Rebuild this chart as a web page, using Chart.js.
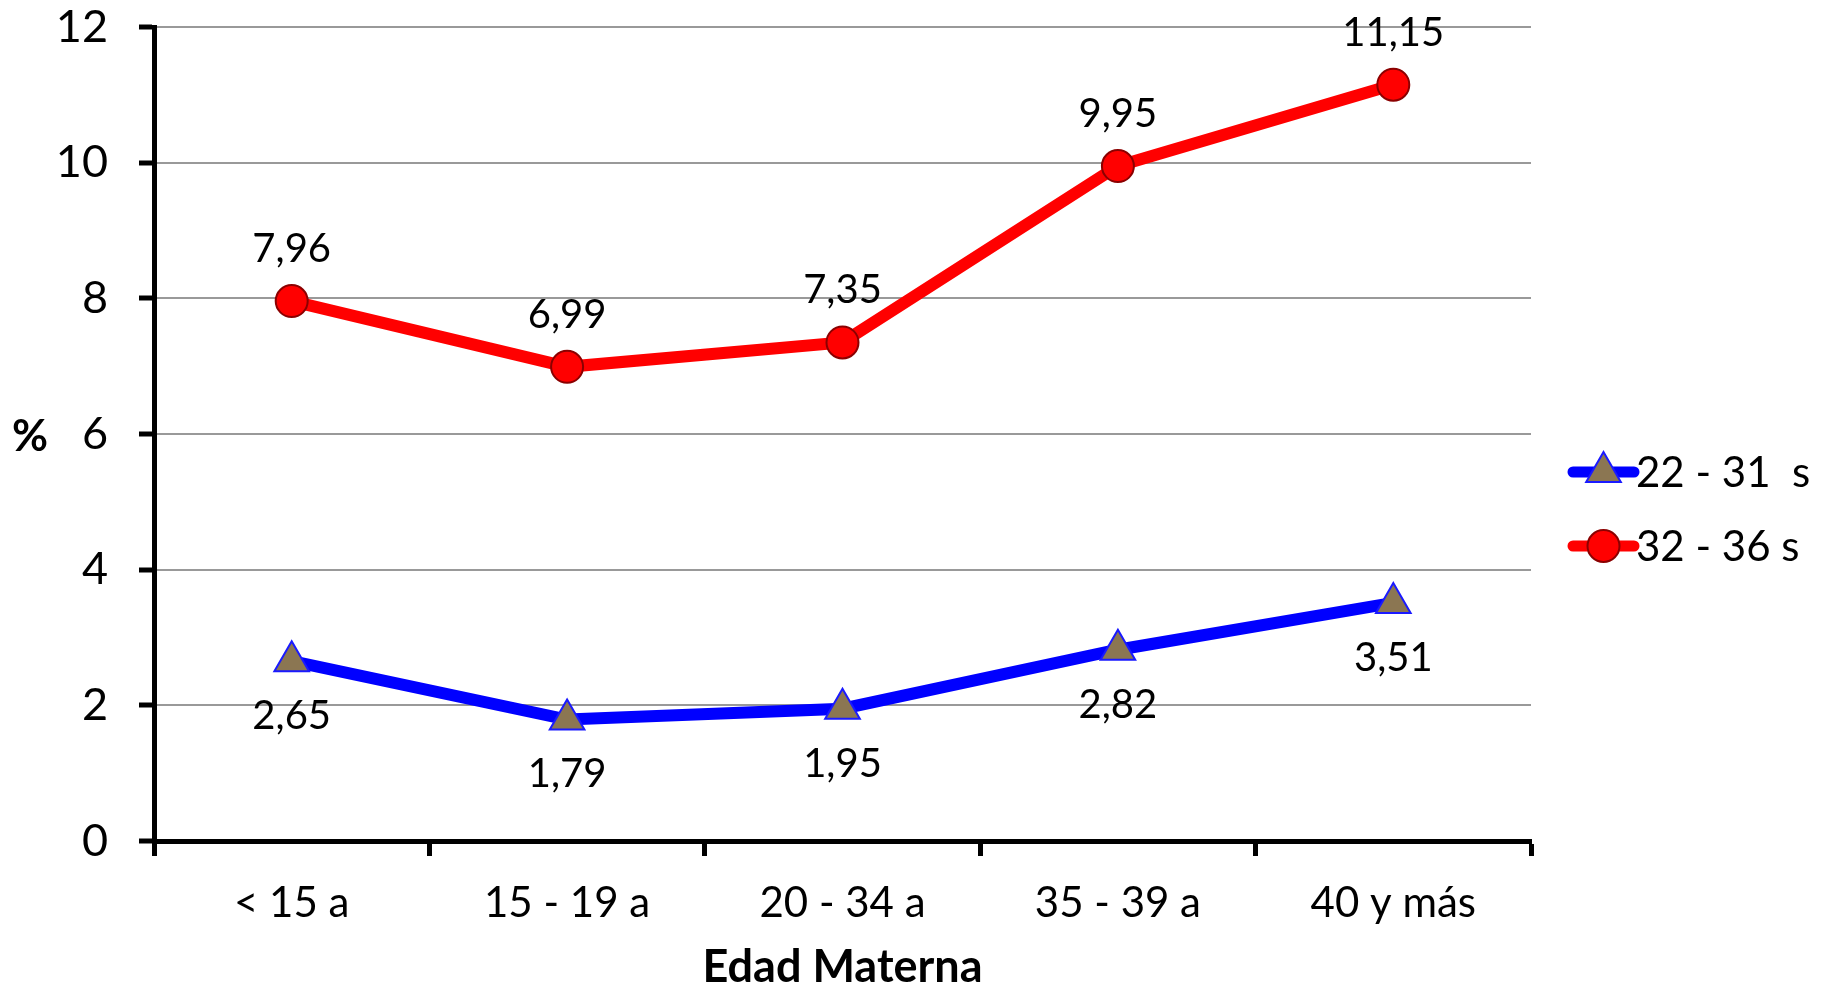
<!DOCTYPE html>
<html lang="es">
<head>
<meta charset="UTF-8">
<title>Edad Materna</title>
<script src="https://cdn.jsdelivr.net/npm/chart.js"></script>
<style>
  html, body { margin: 0; padding: 0; background: #ffffff; }
  #wrap { width: 1827px; height: 990px; }
</style>
</head>
<body>
<div id="wrap"><canvas id="chart"></canvas></div>
<script>
// data
const categories = ['< 15 a', '15 - 19 a', '20 - 34 a', '35 - 39 a', '40 y más'];
const serie2231 = [2.65, 1.79, 1.95, 2.82, 3.51];
const serie3236 = [7.96, 6.99, 7.35, 9.95, 11.15];
const seriesNames = ['22 - 31  s', '32 - 36 s'];
const yMin = 0, yMax = 12, yStep = 2;
const xTitle = 'Edad Materna';
const yTitle = '%';

const FONT = 'Lato, "Open Sans", sans-serif';

// value labels: red above the points, blue below
const valueLabels = {
  id: 'valueLabels',
  afterDatasetsDraw(chart) {
    const ctx = chart.ctx;
    ctx.save();
    ctx.font = '40px ' + FONT;
    ctx.fillStyle = '#000';
    ctx.textAlign = 'center';
    ctx.textBaseline = 'middle';
    chart.data.datasets.forEach((ds, i) => {
      const meta = chart.getDatasetMeta(i);
      const off = i === 0 ? 55 : -52;
      meta.data.forEach((pt, j) => {
        const txt = ds.data[j].toFixed(2).replace('.', ',');
        ctx.fillText(txt, pt.x, pt.y + off);
      });
    });
    ctx.restore();
  }
};

// horizontal "%" title and legend on the right (line + marker + name)
const sideTexts = {
  id: 'sideTexts',
  afterDraw(chart) {
    const ctx = chart.ctx;
    const area = chart.chartArea;
    ctx.save();
    ctx.fillStyle = '#000';
    ctx.font = 'bold 44px ' + FONT;
    ctx.textAlign = 'center';
    ctx.textBaseline = 'middle';
    ctx.fillText(yTitle, 30, (area.top + area.bottom) / 2 + 3);

    const rows = [472, 546];
    chart.data.datasets.forEach((ds, i) => {
      const y = rows[i];
      const x1 = area.right + 42, x2 = area.right + 103;
      ctx.strokeStyle = ds.borderColor;
      ctx.lineWidth = 11;
      ctx.lineCap = 'round';
      ctx.beginPath();
      ctx.moveTo(x1, y);
      ctx.lineTo(x2, y);
      ctx.stroke();
      ctx.fillStyle = ds.pointBackgroundColor;
      ctx.strokeStyle = ds.pointBorderColor;
      ctx.lineWidth = ds.pointBorderWidth;
      Chart.helpers.drawPoint(ctx, {
        pointStyle: ds.pointStyle,
        radius: ds.pointRadius,
        rotation: 0,
        borderWidth: ds.pointBorderWidth
      }, (x1 + x2) / 2, y);
      ctx.fillStyle = '#000';
      ctx.font = '42px ' + FONT;
      ctx.textAlign = 'left';
      ctx.textBaseline = 'middle';
      ctx.fillText(ds.label, x2 + 2, y + 1);
    });
    ctx.restore();
  }
};

new Chart(document.getElementById('chart'), {
  type: 'line',
  data: {
    labels: categories,
    datasets: [
      {
        label: seriesNames[0],
        data: serie2231,
        borderColor: '#0000ff',
        borderWidth: 12,
        pointStyle: 'triangle',
        pointRadius: 20,
        pointHoverRadius: 20,
        pointBackgroundColor: '#8b7652',
        pointBorderColor: '#1a1aff',
        pointBorderWidth: 2,
        tension: 0,
        clip: false
      },
      {
        label: seriesNames[1],
        data: serie3236,
        borderColor: '#ff0000',
        borderWidth: 12,
        pointStyle: 'circle',
        pointRadius: 16,
        pointHoverRadius: 16,
        pointBackgroundColor: '#ff0000',
        pointBorderColor: '#8b0000',
        pointBorderWidth: 2,
        tension: 0,
        clip: false
      }
    ]
  },
  options: {
    responsive: true,
    maintainAspectRatio: false,
    animation: false,
    events: [],
    layout: { padding: { left: 0, top: 27, right: 296, bottom: 0 } },
    plugins: {
      legend: { display: false },
      tooltip: { enabled: false }
    },
    scales: {
      x: {
        offset: true,
        grid: {
          offset: true,
          drawOnChartArea: false,
          drawTicks: true,
          tickLength: 15,
          tickWidth: 5,
          tickColor: '#000'
        },
        border: { display: true, color: '#000', width: 5 },
        ticks: {
          color: '#000',
          font: { family: FONT, size: 42 },
          padding: 22,
          maxRotation: 0,
          autoSkip: false
        },
        title: {
          display: true,
          text: xTitle,
          color: '#000',
          font: { family: FONT, size: 45, weight: 'bold', lineHeight: 1 },
          padding: 0
        },
        afterFit(scale) {
          scale.height = 149;
          scale.paddingLeft = 0;
          scale.paddingRight = 0;
        }
      },
      y: {
        min: yMin,
        max: yMax,
        ticks: {
          stepSize: yStep,
          color: '#000',
          font: { family: FONT, size: 45 },
          padding: 31
        },
        grid: {
          color: '#999999',
          lineWidth: 2,
          drawTicks: true,
          tickLength: 15,
          tickWidth: 5,
          tickColor: '#000'
        },
        border: { display: true, color: '#000', width: 5 },
        afterFit(scale) {
          scale.width = 154;
          scale.paddingTop = 0;
          scale.paddingBottom = 0;
        }
      }
    }
  },
  plugins: [valueLabels, sideTexts]
});
</script>
</body>
</html>
